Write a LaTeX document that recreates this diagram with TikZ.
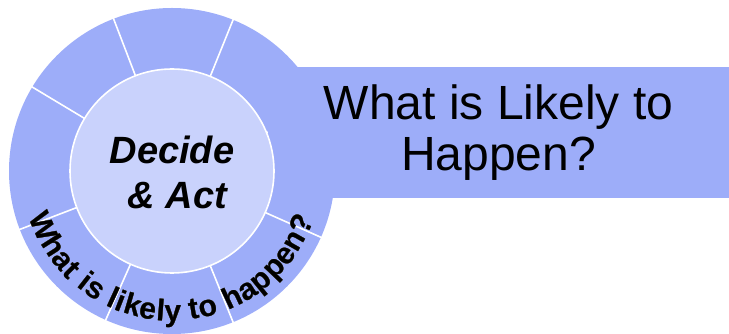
\documentclass[tikz,border=0pt]{standalone}
\usepackage{fontspec}
\setmainfont{Liberation Sans}
\usetikzlibrary{decorations.text}
\definecolor{ringblue}{RGB}{157,173,249}
\definecolor{hubblue}{RGB}{201,210,252}
\tikzset{
  ring fill/.style={fill=ringblue},
  ring divider/.style={draw=white, line width=1.6pt},
  hub disc/.style={circle, fill=hubblue, draw=white, line width=1.6pt, minimum size=204pt, inner sep=0pt},
  banner box/.style={fill=ringblue, minimum width=461pt, minimum height=131pt, inner sep=0pt, align=center,
    font=\fontsize{48}{51}\selectfont},
  arc words/.style={decorate, decoration={text along path, text align=fit to path,
    text={|\color{#1}\bfseries\fontsize{30}{30}\selectfont|What is likely to happen?}}},
}
\begin{document}
\begin{tikzpicture}[x=1pt, y=1pt]
  \useasboundingbox (0,0) rectangle (729,334);
  \coordinate (c) at (172,163);
  \fill[ring fill] (c) circle (163);
  \foreach \a in {22,68,111,149,201,246,292,336}
    \draw[ring divider] ([shift={(\a:100)}]c) -- ([shift={(\a:164)}]c);
  \node[banner box] (banner) at (498.5,201.5) {What is Likely to\\Happen?};
  \node[hub disc] (hub) at (c) {};
  \node[font=\bfseries\itshape\fontsize{38}{45}\selectfont, align=center] (decide) at (172,162) {Decide\\~\& Act};
  % curved caption with its shadow
  \foreach \dx/\dy in {1.6/-1.6, -0.9/0.9, 0.9/0.9, -0.9/-0.9}
    \path[arc words=black!60, shift={(\dx,\dy)}] ([shift={(198:150)}]c) arc[start angle=198, end angle=341, radius=150];
  \path[arc words=black] ([shift={(198:150)}]c) arc[start angle=198, end angle=341, radius=150];
\end{tikzpicture}
\end{document}
